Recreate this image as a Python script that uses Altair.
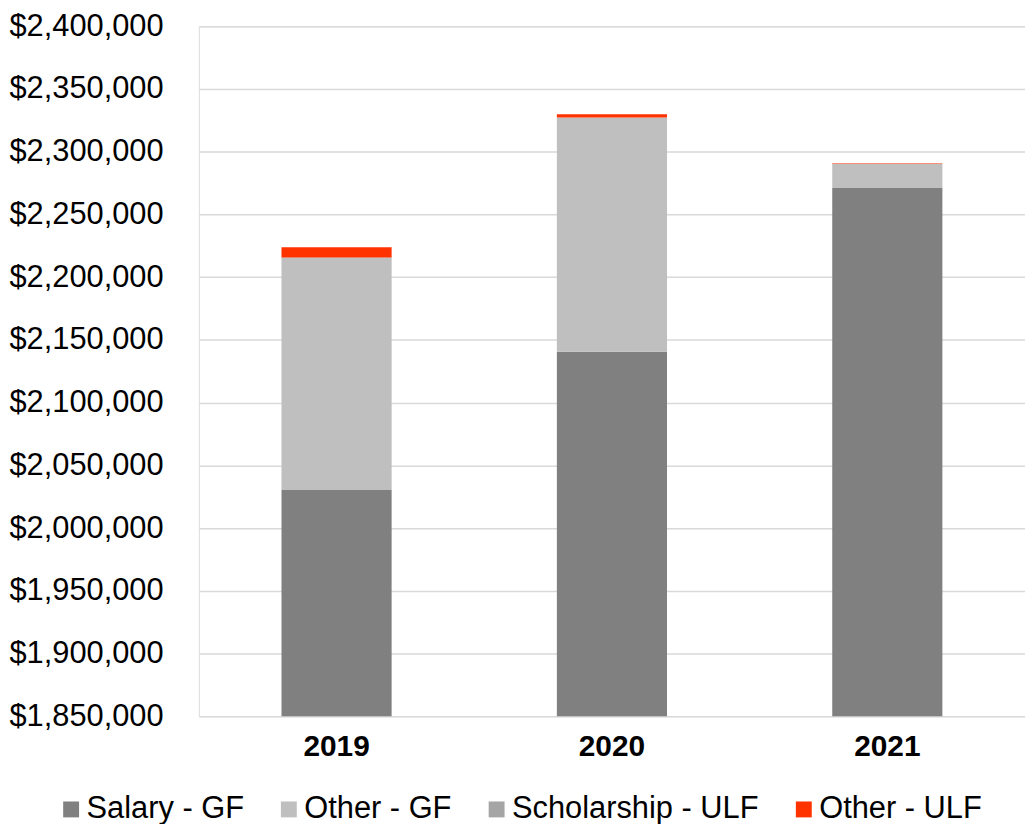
import altair as alt
import pandas as pd

years = ["2019", "2020", "2021"]
series = ["Salary - GF", "Other - GF", "Scholarship - ULF", "Other - ULF"]
salary_gf = [2030700, 2140500, 2271000]
other_gf = [184100, 186800, 19500]
scholarship_ulf = [800, 0, 0]
other_ulf = [8300, 2600, 400]
colors = ["#808080", "#bfbfbf", "#a5a5a5", "#ff3300"]
y_ticks = [1850000, 1900000, 1950000, 2000000, 2050000, 2100000, 2150000,
           2200000, 2250000, 2300000, 2350000, 2400000]

rows = []
for i, y in enumerate(years):
    for k, (name, vals) in enumerate(zip(series, [salary_gf, other_gf, scholarship_ulf, other_ulf])):
        rows.append({"year": y, "series": name, "value": vals[i], "ord": k})
df = pd.DataFrame(rows)

FONT = "Liberation Sans"

chart = alt.Chart(df).mark_bar(clip=True).encode(
    x=alt.X("year:N", title=None,
            scale=alt.Scale(paddingInner=0.6, paddingOuter=0.3),
            axis=alt.Axis(labelAngle=0, labelFontSize=30, labelFontWeight="bold",
                          labelFont=FONT, labelColor="black", labelPadding=16,
                          domain=False, ticks=False)),
    y=alt.Y("sum(value):Q", title=None, stack="zero",
            scale=alt.Scale(domain=[1850000, 2400000], zero=False, nice=False),
            axis=alt.Axis(values=y_ticks, format="$,.0f", labelFontSize=31,
                          labelFont=FONT, labelColor="black", labelPadding=36,
                          domain=False, ticks=False, gridColor="#d9d9d9",
                          gridWidth=1.5)),
    color=alt.Color("series:N", scale=alt.Scale(domain=series, range=colors),
                    legend=alt.Legend(title=None, orient="none", direction="horizontal",
                                      legendX=-144, legendY=772,
                                      symbolType="square", symbolSize=256,
                                      symbolStrokeWidth=0, labelFontSize=31,
                                      labelFont=FONT, labelColor="black",
                                      labelLimit=500, labelOffset=0,
                                      columnPadding=29)),
    order=alt.Order("ord:Q", sort="ascending"),
).properties(
    width=831, height=694,
    autosize=alt.AutoSizeParams(type="none"),
    padding={"left": 192, "top": 16, "right": 0, "bottom": 106},
).configure_view(stroke=None).configure(background="white")

chart.save("out.html", embed_options={"renderer": "svg", "actions": False})
